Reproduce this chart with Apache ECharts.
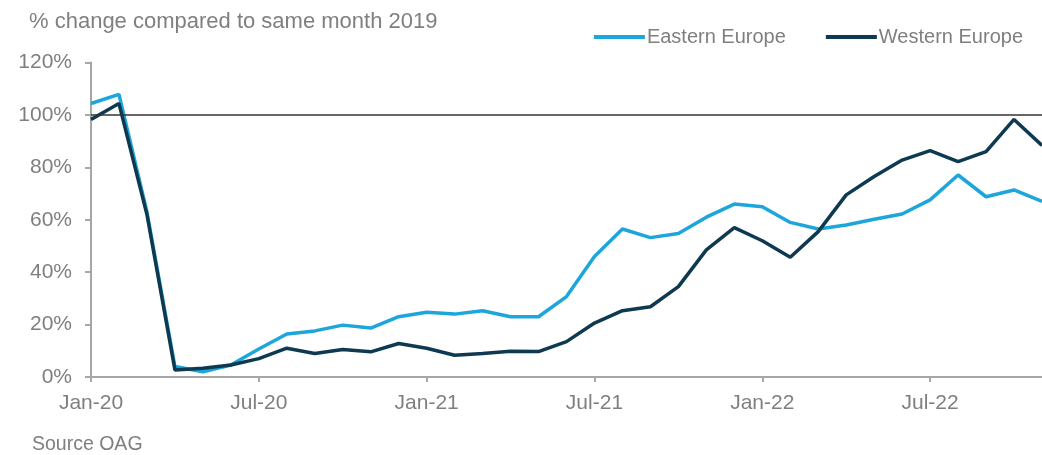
<!DOCTYPE html>
<html>
<head>
<meta charset="utf-8">
<script src="https://cdn.jsdelivr.net/npm/echarts@6/dist/echarts.min.js"></script>
<style>
  html, body { margin: 0; padding: 0; background: #fff; }
  #chart { width: 1042px; height: 455px; }
</style>
</head>
<body>
<div id="chart"></div>
<script>
// Monthly air capacity, % of the same month in 2019
const months = [
  'Jan-20','Feb-20','Mar-20','Apr-20','May-20','Jun-20','Jul-20','Aug-20','Sep-20','Oct-20','Nov-20','Dec-20',
  'Jan-21','Feb-21','Mar-21','Apr-21','May-21','Jun-21','Jul-21','Aug-21','Sep-21','Oct-21','Nov-21','Dec-21',
  'Jan-22','Feb-22','Mar-22','Apr-22','May-22','Jun-22','Jul-22','Aug-22','Sep-22','Oct-22','Nov-22'
];
const easternEurope = [
  104.4, 107.9, 63, 4, 2, 4.6, 10.7, 16.4, 17.6, 19.8, 18.7, 23,
  24.7, 24, 25.3, 23, 23, 30.7, 46, 56.5, 53.2, 54.8, 61, 66,
  65, 59, 56.5, 58, 60.2, 62.2, 67.6, 77.1, 68.8, 71.4, 67
];
const westernEurope = [
  98.3, 104.4, 62, 2.7, 3.3, 4.6, 7, 11, 9, 10.5, 9.6, 12.8,
  11, 8.3, 9, 9.8, 9.7, 13.5, 20.6, 25.3, 26.8, 34.5, 48.5, 57,
  52, 45.7, 55.5, 69.5, 76.5, 82.8, 86.4, 82.2, 86, 98.3, 88.4
];
const yTicks = { min: 0, max: 120, step: 20 };
const baseline = 100;

const FONT = '"Liberation Sans", Arial, sans-serif';
const GREY = '#7f7f7f';
const AXIS = '#a6a6a6';

const chart = echarts.init(document.getElementById('chart'), null, { renderer: 'canvas' });
chart.setOption({
  animation: false,
  backgroundColor: '#ffffff',
  textStyle: { fontFamily: FONT },
  title: [
    { text: '% change compared to same month 2019', left: 29, top: 11, padding: 0,
      textStyle: { fontSize: 22, fontWeight: 'normal', color: GREY, fontFamily: FONT } },
    { text: 'Source OAG', left: 32, top: 435, padding: 0,
      textStyle: { fontSize: 19.5, fontWeight: 'normal', color: GREY, fontFamily: FONT } }
  ],
  legend: {
    right: 19, top: 27, padding: 0,
    itemWidth: 51, itemHeight: 4, itemGap: 40,
    icon: 'rect',
    textStyle: { fontSize: 20, color: GREY, fontFamily: FONT, padding: [0, 0, 0, -3] },
    data: ['Eastern Europe', 'Western Europe']
  },
  grid: { left: 91, right: -2, top: 62.6, bottom: 78, containLabel: false },
  xAxis: {
    type: 'category',
    data: months,
    boundaryGap: false,
    axisLine: { lineStyle: { color: AXIS, width: 2 } },
    axisTick: { interval: 5, length: 5, lineStyle: { color: AXIS, width: 2 } },
    axisLabel: { interval: 5, color: GREY, fontSize: 21, margin: 16, fontFamily: FONT },
    splitLine: { show: false }
  },
  yAxis: {
    type: 'value',
    min: yTicks.min, max: yTicks.max, interval: yTicks.step,
    axisLine: { show: true, lineStyle: { color: AXIS, width: 2 } },
    axisTick: { show: true, length: 6, lineStyle: { color: AXIS, width: 2 } },
    axisLabel: { formatter: '{value}%', color: GREY, fontSize: 21, margin: 19, fontFamily: FONT },
    splitLine: { show: false }
  },
  series: [
    {
      name: 'Eastern Europe', type: 'line', data: easternEurope,
      symbol: 'none', lineStyle: { color: '#1ca6db', width: 3.5 }, itemStyle: { color: '#1ca6db' },
      markLine: {
        silent: true, symbol: 'none', label: { show: false },
        lineStyle: { color: '#333333', width: 1.5, type: 'solid' },
        data: [{ yAxis: baseline }]
      },
      z: 3
    },
    {
      name: 'Western Europe', type: 'line', data: westernEurope,
      symbol: 'none', lineStyle: { color: '#0d3a50', width: 3.5 }, itemStyle: { color: '#0d3a50' },
      z: 4
    }
  ]
});
</script>
</body>
</html>
